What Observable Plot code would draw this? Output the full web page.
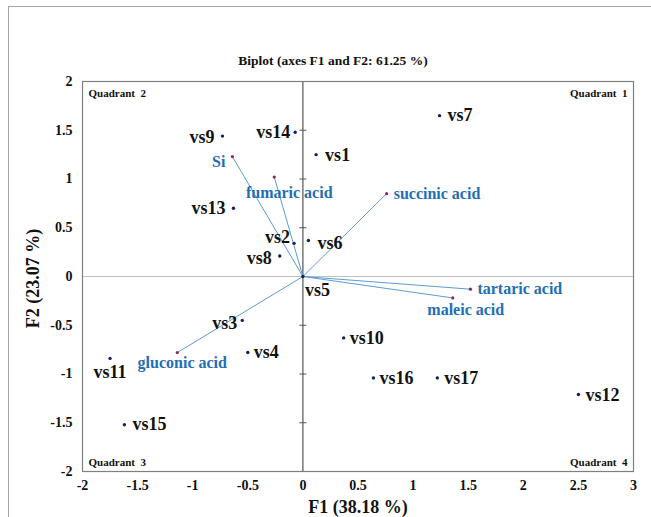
<!DOCTYPE html>
<html>
<head>
<meta charset="utf-8">
<script src="https://cdn.jsdelivr.net/npm/d3@7"></script>
<script src="https://cdn.jsdelivr.net/npm/@observablehq/plot@0.6"></script>
<style>
  html, body { margin: 0; padding: 0; background: #fff; }
  #wrap { position: relative; width: 651px; height: 517px; }
  #border { position: absolute; left: 8px; top: 6px; right: 0; bottom: 0;
            border-top: 1.5px solid #a6a6a6; border-left: 1.5px solid #a6a6a6; pointer-events: none; }
  svg { display: block; }
</style>
</head>
<body>
<div id="wrap"><div id="border"></div></div>
<script>
// ---- data ----
const obsNames = ["vs1","vs2","vs3","vs4","vs5","vs6","vs7","vs8","vs9","vs10","vs11","vs12","vs13","vs14","vs15","vs16","vs17"];
const obsF1 = [0.12, -0.08, -0.55, -0.50, 0.00, 0.05, 1.24, -0.21, -0.73, 0.37, -1.75, 2.50, -0.63, -0.07, -1.62, 0.64, 1.22];
const obsF2 = [1.25, 0.34, -0.45, -0.78, 0.00, 0.37, 1.65, 0.21, 1.44, -0.63, -0.84, -1.21, 0.70, 1.48, -1.52, -1.04, -1.04];

const varNames = ["Si", "fumaric acid", "succinic acid", "tartaric acid", "maleic acid", "gluconic acid"];
const varF1 = [-0.64, -0.26, 0.76, 1.52, 1.36, -1.14];
const varF2 = [1.23, 1.02, 0.85, -0.13, -0.22, -0.78];

const xTicks = [-2, -1.5, -1, -0.5, 0, 0.5, 1, 1.5, 2, 2.5, 3];
const yTicks = [-2, -1.5, -1, -0.5, 0, 0.5, 1, 1.5, 2];
const quadrantNames = ["Quadrant  1", "Quadrant  2", "Quadrant  3", "Quadrant  4"];

const titleText = "Biplot (axes F1 and F2: 61.25 %)";
const xTitle = "F1 (38.18 %)";
const yTitle = "F2 (23.07 %)";

// ---- layout (label placement, not data) ----
const place = {
  "vs1": ["start", 9, 1], "vs2": ["end", -4, -6], "vs3": ["end", -5, 3], "vs4": ["start", 6, 0],
  "vs5": ["start", 2, 14], "vs6": ["start", 9, 3], "vs7": ["start", 8, 0], "vs8": ["end", -8, 2],
  "vs9": ["end", -8, 1], "vs10": ["start", 6, 0], "vs11": ["middle", 0, 14], "vs12": ["start", 7, 1],
  "vs13": ["end", -8, 0], "vs14": ["end", -5, 0], "vs15": ["start", 8, 0], "vs16": ["start", 6, 0],
  "vs17": ["start", 7, 0],
  "Si": ["end", -7, 5], "fumaric acid": ["middle", 15, 16], "succinic acid": ["start", 7, 0],
  "tartaric acid": ["start", 7, 0], "maleic acid": ["middle", 13, 12], "gluconic acid": ["middle", 5, 10]
};
const quadPlace = [
  {frameAnchor: "top-right", dx: -6, dy: 12},
  {frameAnchor: "top-left", dx: 6, dy: 12},
  {frameAnchor: "bottom-left", dx: 6, dy: -9},
  {frameAnchor: "bottom-right", dx: -6, dy: -9}
];

const obs = obsNames.map((n, i) => ({name: n, x: obsF1[i], y: obsF2[i]}));
const vars = varNames.map((n, i) => ({name: n, x: varF1[i], y: varF2[i]}));

const serif = "'Liberation Serif', 'Times New Roman', serif";
const hline = {draw(ctx, size) { const r = Math.sqrt(size / Math.PI); ctx.moveTo(-r, 0); ctx.lineTo(r, 0); }};

const labelMark = (d, color, size) => {
  const [anchor, dx, dy] = place[d.name];
  return Plot.text([d], {x: "x", y: "y", text: "name", textAnchor: anchor, dx, dy,
    fill: color, fontSize: size, fontWeight: "bold", fontFamily: serif});
};

const chart = Plot.plot({
  width: 651,
  height: 517,
  marginLeft: 82,
  marginRight: 18,
  marginTop: 81,
  marginBottom: 46,
  style: {fontFamily: serif, background: "transparent"},
  x: {domain: [-2, 3], ticks: xTicks, tickFormat: d => String(d)},
  y: {domain: [-2, 2], ticks: yTicks, tickFormat: d => String(d)},
  marks: [
    Plot.ruleY([0], {stroke: "#c0c0c0", strokeWidth: 1.2}),
    Plot.ruleX([0], {stroke: "#555", strokeWidth: 1.2}),
    Plot.dot(yTicks.filter(t => t !== 0 && Math.abs(t) !== 2), {x: 0, y: d => d, symbol: hline, r: 3.5, stroke: "#555", strokeWidth: 1}),
    Plot.frame({stroke: "#7f7f7f", strokeWidth: 1.2}),
    Plot.axisX({ticks: xTicks, tickFormat: d => String(d), tickSize: 0, tickPadding: 9,
      fontSize: 14, fontWeight: "bold", fill: "#111", label: null}),
    Plot.axisY({ticks: yTicks, tickFormat: d => String(d), tickSize: 0, tickPadding: 10,
      fontSize: 14, fontWeight: "bold", fill: "#111", label: null}),
    Plot.link(vars, {x1: 0, y1: 0, x2: "x", y2: "y", stroke: "#5b9bd5", strokeWidth: 1}),
    Plot.dot(vars, {x: "x", y: "y", r: 1.6, fill: "#8b2a5a"}),
    Plot.dot(obs, {x: "x", y: "y", r: 1.7, fill: "#14205e"}),
    ...obs.map(d => labelMark(d, "#111", 18)),
    ...vars.map(d => labelMark(d, "#1f6fb4", 16)),
    ...quadrantNames.map((q, i) => Plot.text([q], {...quadPlace[i], text: d => d,
      textAnchor: quadPlace[i].frameAnchor.endsWith("left") ? "start" : "end", lineAnchor: "middle",
      fontSize: 11, fontWeight: "bold", fill: "#111", fontFamily: serif})),
    Plot.text([titleText], {frameAnchor: "top", dx: -25, dy: -21, lineAnchor: "middle", text: d => d,
      fontSize: 13.5, fontWeight: "bold", fill: "#111", fontFamily: serif}),
    Plot.text([xTitle], {frameAnchor: "bottom", dy: 36, lineAnchor: "middle", text: d => d,
      fontSize: 18, fontWeight: "bold", fill: "#111", fontFamily: serif}),
    Plot.text([yTitle], {frameAnchor: "left", dx: -49, dy: 2, rotate: -90, textAnchor: "middle", lineAnchor: "middle", text: d => d,
      fontSize: 18, fontWeight: "bold", fill: "#111", fontFamily: serif})
  ]
});
document.getElementById("wrap").prepend(chart);
</script>
</body>
</html>
